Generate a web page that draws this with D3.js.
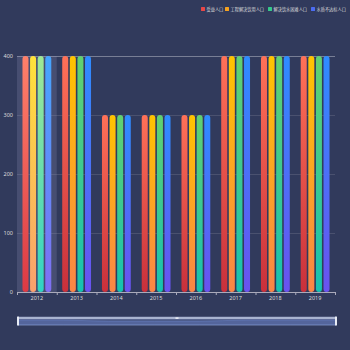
<!DOCTYPE html>
<html><head><meta charset="utf-8">
<script src="https://cdn.jsdelivr.net/npm/d3@7/dist/d3.min.js"></script>
<style>html,body{margin:0;padding:0;background:#313a5c;}svg{display:block;}</style>
</head><body>
<script>
const categories = ["2012","2013","2014","2015","2016","2017","2018","2019"];
const seriesNames = ["受益人口","工程解决饮用人口","解决饮水困难人口","水质不达标人口"];
const s1 = [400,400,300,300,300,400,400,400];
const s2 = [400,400,300,300,300,400,400,400];
const s3 = [400,400,300,300,300,400,400,400];
const s4 = [400,400,300,300,300,400,400,400];
const yTicks = [0,100,200,300,400];
const seriesValues = [s1,s2,s3,s4];
const gradTop = ["#ff7158","#ffc400","#63d16f","#2e8cff"];
const gradBot = ["#c9303b","#fa8547","#14c2b2","#6a52ef"];
const gradTopHi = ["#ff806a","#ffe33a","#a0e895","#45a6ff"];
const gradBotHi = ["#dc3a44","#f9a06e","#30d4c4","#806ff2"];
const legendColors = ["#e84747","#f7a21f","#35c98a","#4c6cf2"];
const hovered = 0;

(function(){
const W=350,H=350;
const svg = d3.select("body").append("svg").attr("width",W).attr("height",H);
svg.append("rect").attr("width",W).attr("height",H).attr("fill","#313a5c");
const defs = svg.append("defs");
for(let i=0;i<4;i++){
  [["g"+i,gradTop[i],gradBot[i]],["h"+i,gradTopHi[i],gradBotHi[i]]].forEach(([id,t,b])=>{
    const g=defs.append("linearGradient").attr("id",id).attr("x1",0).attr("y1",0).attr("x2",0).attr("y2",1);
    g.append("stop").attr("offset","0%").attr("stop-color",t);
    g.append("stop").attr("offset","100%").attr("stop-color",b);
  });
}
const pl=17,pr=335,pt=56,pb=292;
const x = d3.scaleBand().domain(categories).range([pl,pr]);
const y = d3.scaleLinear().domain([0,400]).range([pb,pt]);
const x1 = d3.scaleBand().domain(d3.range(4)).range([0,x.bandwidth()]).paddingInner(0.21).paddingOuter(0.72);

svg.append("g").selectAll("line").data(yTicks.filter(d=>d>0)).join("line")
  .attr("x1",pl).attr("x2",pr).attr("y1",d=>y(d)+0.5).attr("y2",d=>y(d)+0.5)
  .attr("stroke",d=>d===400?"rgba(255,255,255,0.35)":"rgba(255,255,255,0.12)").attr("stroke-width",1);

svg.append("rect").attr("x",x(categories[hovered])).attr("y",pt).attr("width",x.bandwidth()).attr("height",pb-pt)
  .attr("fill","rgba(150,150,190,0.22)");

const bw = x1.bandwidth();
seriesValues.forEach((vals,si)=>{
  svg.append("g").selectAll("rect").data(vals).join("rect")
    .attr("x",(d,i)=>x(categories[i])+x1(si))
    .attr("y",d=>y(d))
    .attr("width",bw)
    .attr("height",d=>pb-y(d))
    .attr("rx",bw/2)
    .attr("fill",(d,i)=>i===hovered?`url(#h${si})`:`url(#g${si})`);
});

svg.append("g").selectAll("text").data(yTicks).join("text")
  .attr("x",13).attr("y",d=>y(d)+2).attr("text-anchor","end")
  .attr("font-family","Noto Sans, sans-serif").attr("font-size",5.5).attr("fill","#ddd").text(d=>d);

const xa = svg.append("g");
xa.append("line").attr("x1",pl).attr("x2",pr).attr("y1",pb+0.5).attr("y2",pb+0.5).attr("stroke","#aab").attr("stroke-width",1);
const tickPos = categories.map(c=>x(c)).concat([pr]);
xa.selectAll(".tk").data(tickPos).join("line").attr("class","tk")
  .attr("x1",d=>d+0.5).attr("x2",d=>d+0.5).attr("y1",pb).attr("y2",pb+3).attr("stroke","#aab");
xa.selectAll("text").data(categories).join("text")
  .attr("x",d=>x(d)+x.bandwidth()/2).attr("y",pb+8).attr("text-anchor","middle")
  .attr("font-family","Noto Sans, sans-serif").attr("font-size",5.5).attr("fill","#ddd").text(d=>d);

const legX=[201,225,268,311];
const lg = svg.append("g");
seriesNames.forEach((n,i)=>{
  lg.append("rect").attr("x",legX[i]).attr("y",7).attr("width",4).attr("height",4).attr("rx",0.5).attr("fill",legendColors[i]);
  lg.append("text").attr("x",legX[i]+5.5).attr("y",10.8).attr("font-family","Noto Sans CJK SC, sans-serif")
    .attr("font-size",4.2).attr("fill","#ddd").text(n);
});

const dzL=18,dzR=336,dzT=317,dzB=325;
svg.append("rect").attr("x",dzL).attr("y",dzT).attr("width",dzR-dzL).attr("height",dzB-dzT)
  .attr("fill","#3a4670").attr("stroke","#8b96b8").attr("stroke-width",0.6);
const xs = d3.scalePoint().domain(categories).range([dzL,dzR]);
const ys = d3.scaleLinear().domain([0,400]).range([dzB,dzT+3]);
svg.append("path").datum(s1).attr("d",d3.area().x((d,i)=>xs(categories[i])).y0(dzB).y1(d=>ys(d)).curve(d3.curveMonotoneX))
  .attr("fill","rgba(100,130,210,0.3)").attr("stroke","rgba(120,150,230,0.6)").attr("stroke-width",0.5);
svg.append("rect").attr("x",dzL).attr("y",dzT).attr("width",dzR-dzL).attr("height",2.2).attr("fill","#a9b3d0");
svg.append("rect").attr("x",dzL).attr("y",dzT+2.2).attr("width",dzR-dzL).attr("height",dzB-dzT-2.2).attr("fill","rgba(140,160,220,0.2)");
[dzL,dzR].forEach(xx=>{
  svg.append("rect").attr("x",xx-1).attr("y",dzT-0.5).attr("width",2).attr("height",dzB-dzT+1).attr("fill","#e8ecf5").attr("rx",0.5);
});
svg.append("rect").attr("x",(dzL+dzR)/2-1.5).attr("y",dzT+0.5).attr("width",3).attr("height",1.2).attr("fill","#fff");
})();
</script>
</body></html>
